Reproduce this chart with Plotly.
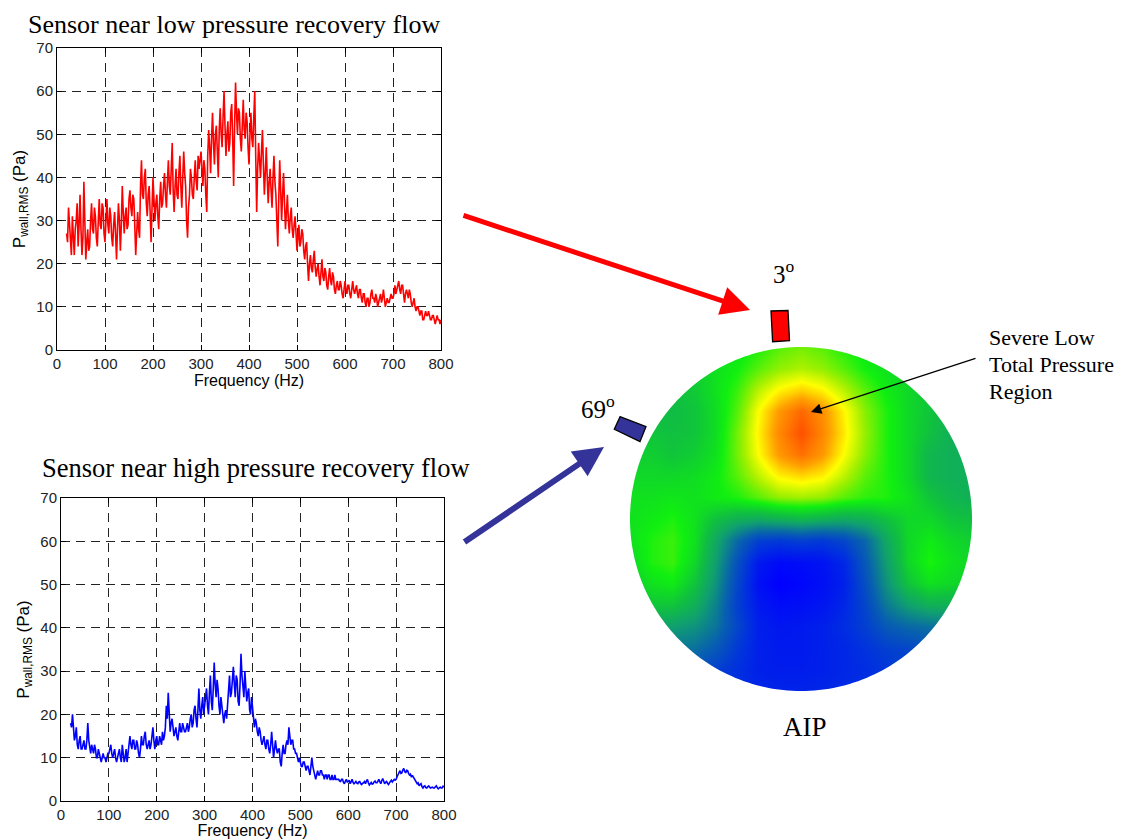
import math
import plotly.graph_objects as go

# window is 1124x839; the page body adds an 8px margin, so the figure is drawn 8px in
OFF = 8
W, H = 1124 - OFF, 839 - OFF

# ---------------- data ----------------
freq = list(range(20, 801, 2))

p_low = [
    27, 25, 33, 29, 25, 22, 31, 26, 22, 28, 30, 34, 24, 29, 36, 28, 22, 26, 39, 30,
    21, 25, 28, 23, 24, 30, 34, 28, 27, 33, 31, 26, 24, 30, 35, 29, 28, 34, 33, 27,
    25, 30, 35, 29, 27, 33, 31, 26, 24, 29, 32, 27, 21, 28, 34, 30, 23, 29, 38, 32,
    27, 31, 33, 28, 29, 35, 37, 33, 31, 36, 35, 29, 22, 27, 32, 28, 26, 38, 44, 36,
    35, 40, 42, 34, 31, 36, 38, 32, 25, 33, 40, 35, 30, 34, 36, 31, 28, 35, 39, 33,
    34, 38, 41, 36, 33, 39, 44, 38, 36, 42, 48, 37, 32, 38, 42, 36, 35, 41, 45, 38,
    33, 40, 46, 41, 38, 30, 26, 33, 36, 42, 40, 36, 35, 40, 44, 39, 37, 45, 42, 44,
    46, 42, 38, 44, 42, 36, 32, 45, 51, 47, 41, 49, 55, 48, 43, 50, 52, 46, 40, 51,
    56, 50, 47, 54, 60, 52, 45, 50, 53, 46, 48, 55, 57, 49, 38, 52, 62, 55, 50, 56,
    55, 49, 46, 52, 58, 51, 49, 55, 53, 47, 43, 50, 55, 49, 47, 54, 60, 45, 32, 42,
    48, 44, 40, 46, 51, 43, 36, 41, 47, 40, 34, 39, 42, 37, 33, 40, 45, 39, 36, 30,
    24, 35, 44, 37, 30, 36, 41, 34, 28, 32, 36, 30, 27, 31, 33, 28, 26, 29, 31, 27,
    23, 26, 29, 24, 25, 28, 27, 23, 21, 24, 25, 20, 16, 20, 22, 19, 18, 21, 23, 19,
    17, 19, 20, 17, 15, 18, 21, 17, 16, 19, 18, 15, 14, 17, 19, 16, 15, 18, 17, 14,
    13, 15, 16, 14, 14, 16, 15, 13, 12, 14, 16, 14, 13, 15, 15, 13, 12, 14, 16, 14,
    13, 14, 15, 13, 12, 14, 14, 12, 11, 13, 13, 11, 10, 12, 12, 10, 11, 13, 14, 12,
    12, 11, 13, 12, 10, 11, 12, 13, 11, 12, 14, 12, 10, 11, 12, 11, 11, 12, 13, 12,
    12, 13, 15, 13, 14, 15, 16, 14, 13, 15, 15, 13, 11, 13, 14, 13, 12, 14, 13, 11,
    10, 11, 12, 10, 9, 10, 10, 9, 8, 9, 9, 7, 7, 8, 9, 8, 8, 9, 8, 7,
    7, 8, 8, 7, 6, 7, 8, 7, 7, 6, 7,
]

p_high = [
    18, 17, 20, 16, 14, 15, 17, 13, 12, 14, 15, 12, 12, 13, 14, 12, 12, 14, 18, 14,
    12, 11, 13, 12, 11, 13, 12, 10, 10, 12, 11, 10, 9, 10, 11, 10, 10, 9, 10, 11,
    11, 12, 13, 11, 10, 11, 12, 10, 9, 10, 11, 12, 10, 9, 13, 11, 9, 10, 12, 9,
    11, 13, 15, 13, 12, 14, 14, 12, 12, 14, 13, 11, 10, 12, 15, 13, 13, 15, 16, 13,
    12, 13, 14, 12, 13, 15, 17, 14, 12, 14, 15, 13, 13, 15, 14, 13, 16, 14, 15, 17,
    22, 19, 25, 20, 16, 18, 19, 17, 15, 16, 17, 15, 14, 16, 18, 16, 16, 18, 17, 16,
    16, 17, 18, 16, 17, 19, 20, 17, 18, 21, 22, 19, 17, 21, 26, 21, 19, 22, 24, 20,
    22, 24, 26, 22, 20, 25, 29, 23, 21, 26, 32, 27, 24, 28, 26, 22, 20, 24, 22, 19,
    18, 20, 21, 19, 23, 26, 29, 24, 25, 28, 31, 27, 24, 29, 28, 23, 22, 27, 34, 29,
    27, 24, 30, 26, 23, 25, 26, 21, 20, 24, 22, 19, 17, 19, 18, 16, 15, 17, 16, 14,
    13, 14, 15, 13, 12, 14, 14, 12, 11, 13, 16, 13, 10, 12, 14, 12, 11, 12, 12, 9,
    8, 11, 13, 11, 11, 13, 14, 13, 17, 15, 13, 14, 14, 12, 12, 11, 11, 10, 9, 10,
    9, 8, 8, 9, 9, 8, 7, 8, 8, 7, 6, 8, 10, 8, 7, 6, 5, 6, 7, 6,
    6, 7, 7, 6, 6, 5, 6, 6, 5, 6, 6, 5, 5, 6, 5, 5, 6, 5, 5, 5,
    5, 4.6, 4.5, 5, 5, 4.3, 4, 4.6, 5, 4.4, 4.5, 4.8, 4, 4.4, 5, 4.3, 4, 4.2, 4.5, 4.1,
    4, 4.4, 4.5, 4, 3.8, 4.1, 4.2, 4.5, 4, 4.6, 5, 4.2, 3.7, 4, 4.3, 3.9, 4, 4.4, 4.6, 4.2,
    4.2, 4.6, 5, 4.4, 4, 4.7, 5.2, 4.6, 4, 4.3, 4.5, 4.1, 3.8, 4.2, 4.6, 4.8, 4.4, 4.7, 5, 4.8,
    5, 5.6, 6, 6.6, 7, 6.4, 6.5, 7.2, 7.5, 6.8, 6.5, 7.1, 7, 6.4, 6, 6.2, 5.5, 5.9, 5.5, 5.2,
    5, 4.5, 4, 4.2, 3.5, 3.8, 4, 3.3, 3, 3.4, 3.5, 3.1, 3, 3.3, 3.5, 3.2, 3, 3.1, 3.2, 3,
    3, 3.3, 3.5, 3.1, 2.8, 3, 3.2, 3, 3, 3.4, 3.3,
]

x_ticks = [0, 100, 200, 300, 400, 500, 600, 700, 800]
y_ticks = [0, 10, 20, 30, 40, 50, 60, 70]

# AIP total-pressure-loss map (normalised 0..1), rows listed top (y=+1) to bottom (y=-1)
disk_x = [-1.0, -0.875, -0.75, -0.625, -0.5, -0.375, -0.25, -0.125, 0.0,
          0.125, 0.25, 0.375, 0.5, 0.625, 0.75, 0.875, 1.0]
disk_y_top_down = [1.0, 0.875, 0.75, 0.625, 0.5, 0.375, 0.25, 0.125, 0.0,
                   -0.125, -0.25, -0.375, -0.5, -0.625, -0.75, -0.875, -1.0]
disk_z_top_down = [
    [0.56, 0.56, 0.57, 0.59, 0.61, 0.63, 0.66, 0.70, 0.72, 0.70, 0.66, 0.63, 0.60, 0.58, 0.56, 0.55, 0.55],
    [0.54, 0.55, 0.56, 0.58, 0.62, 0.65, 0.70, 0.74, 0.76, 0.74, 0.70, 0.65, 0.62, 0.58, 0.55, 0.53, 0.52],
    [0.54, 0.54, 0.55, 0.57, 0.62, 0.68, 0.77, 0.83, 0.86, 0.83, 0.77, 0.70, 0.64, 0.60, 0.56, 0.52, 0.50],
    [0.54, 0.54, 0.54, 0.56, 0.61, 0.70, 0.82, 0.91, 0.97, 0.92, 0.83, 0.73, 0.66, 0.60, 0.56, 0.52, 0.50],
    [0.56, 0.56, 0.55, 0.56, 0.61, 0.72, 0.83, 0.93, 1.00, 0.93, 0.84, 0.74, 0.66, 0.60, 0.55, 0.50, 0.50],
    [0.58, 0.58, 0.56, 0.58, 0.62, 0.72, 0.82, 0.91, 0.96, 0.91, 0.82, 0.73, 0.66, 0.60, 0.52, 0.50, 0.50],
    [0.60, 0.60, 0.60, 0.61, 0.64, 0.70, 0.77, 0.83, 0.85, 0.83, 0.77, 0.70, 0.66, 0.60, 0.52, 0.50, 0.50],
    [0.62, 0.62, 0.63, 0.62, 0.64, 0.66, 0.70, 0.74, 0.75, 0.74, 0.70, 0.67, 0.66, 0.62, 0.56, 0.52, 0.50],
    [0.62, 0.64, 0.66, 0.62, 0.55, 0.50, 0.48, 0.50, 0.52, 0.50, 0.48, 0.50, 0.55, 0.60, 0.60, 0.56, 0.55],
    [0.62, 0.66, 0.68, 0.62, 0.48, 0.32, 0.20, 0.18, 0.20, 0.18, 0.22, 0.32, 0.48, 0.60, 0.64, 0.60, 0.58],
    [0.60, 0.66, 0.68, 0.60, 0.45, 0.25, 0.08, 0.03, 0.04, 0.06, 0.12, 0.28, 0.45, 0.60, 0.66, 0.62, 0.60],
    [0.58, 0.62, 0.64, 0.56, 0.42, 0.22, 0.05, 0.00, 0.02, 0.05, 0.10, 0.25, 0.42, 0.56, 0.62, 0.60, 0.58],
    [0.52, 0.56, 0.56, 0.50, 0.38, 0.20, 0.08, 0.04, 0.05, 0.07, 0.12, 0.22, 0.36, 0.45, 0.50, 0.50, 0.50],
    [0.45, 0.46, 0.45, 0.42, 0.35, 0.22, 0.10, 0.07, 0.08, 0.10, 0.14, 0.20, 0.28, 0.32, 0.34, 0.36, 0.36],
    [0.35, 0.36, 0.36, 0.34, 0.28, 0.18, 0.10, 0.08, 0.08, 0.10, 0.12, 0.16, 0.20, 0.22, 0.25, 0.27, 0.27],
    [0.28, 0.28, 0.28, 0.26, 0.20, 0.15, 0.10, 0.09, 0.09, 0.10, 0.12, 0.14, 0.17, 0.20, 0.22, 0.22, 0.22],
    [0.24, 0.24, 0.24, 0.20, 0.17, 0.14, 0.12, 0.11, 0.11, 0.12, 0.13, 0.15, 0.17, 0.19, 0.20, 0.20, 0.20],
]

disk_colorscale = [
    [0.00, "#0000FF"],
    [0.15, "#0030E0"],
    [0.30, "#0860B0"],
    [0.45, "#10A070"],
    [0.55, "#10C040"],
    [0.65, "#10F010"],
    [0.75, "#A0F000"],
    [0.82, "#FFFF00"],
    [0.90, "#FFA000"],
    [1.00, "#FF5000"],
]


# ---------------- helpers (window pixels -> paper fractions) ----------------
def px(x, y):
    return (x - OFF) / W, 1 - (y - OFF) / H


def dom_x(a, b):
    return [(a - OFF) / W, (b - OFF) / W]


def dom_y(top, bottom):
    return [1 - (bottom - OFF) / H, 1 - (top - OFF) / H]


sans = "Liberation Sans, Arial, sans-serif"
serif = "Liberation Serif, Times New Roman, serif"


def axis_common(rng, ticks):
    return dict(
        range=rng,
        tickvals=ticks,
        automargin=False,
        showline=True,
        linecolor="black",
        linewidth=1,
        mirror="ticks",
        ticks="inside",
        ticklen=5,
        tickcolor="black",
        showgrid=True,
        gridcolor="#222222",
        griddash="9px,6px",
        gridwidth=1,
        zeroline=False,
        tickfont=dict(family=sans, size=15, color="#222222"),
        fixedrange=True,
    )


fig = go.Figure()

fig.add_trace(go.Scatter(x=freq, y=p_low, mode="lines",
                         line=dict(color="#FF0000", width=1.6),
                         xaxis="x", yaxis="y", showlegend=False))
fig.add_trace(go.Scatter(x=freq, y=p_high, mode="lines",
                         line=dict(color="#0000FF", width=1.6),
                         xaxis="x2", yaxis="y2", showlegend=False))

disk_y = disk_y_top_down[::-1]
disk_z = disk_z_top_down[::-1]
fig.add_trace(go.Heatmap(x=disk_x, y=disk_y, z=disk_z, colorscale=disk_colorscale,
                         zmin=0, zmax=1, zsmooth="best", showscale=False,
                         xaxis="x3", yaxis="y3", hoverinfo="skip"))

ytitle = dict(text="P<sub>wall,RMS</sub> (Pa)", font=dict(family=sans, size=17, color="black"), standoff=6)
xtitle = dict(text="Frequency (Hz)", font=dict(family=sans, size=16, color="black"), standoff=1)

xa1 = axis_common([0, 800], x_ticks); xa1.update(domain=dom_x(57, 441), anchor="y", title=xtitle)
ya1 = axis_common([0, 70], y_ticks); ya1.update(domain=dom_y(48, 350), anchor="x", title=ytitle)
xa2 = axis_common([0, 800], x_ticks); xa2.update(domain=dom_x(61, 444), anchor="y2", title=xtitle)
ya2 = axis_common([0, 70], y_ticks); ya2.update(domain=dom_y(498, 801), anchor="x2", title=ytitle)

R_PAD = 1.12
blank = dict(visible=False, range=[-R_PAD, R_PAD], fixedrange=True, showgrid=False,
             zeroline=False, automargin=False)
xa3 = dict(blank, domain=dom_x(801 - 171 * R_PAD, 801 + 171 * R_PAD), anchor="y3")
ya3 = dict(blank, domain=dom_y(519 - 172 * R_PAD, 519 + 172 * R_PAD), anchor="x3")

# white mask outside the disk
circ = []
for i in range(241):
    t = 2 * math.pi * i / 240
    circ.append(f"{math.cos(t):.4f},{math.sin(t):.4f}")
mask_path = "M-1.5,-1.5 L1.5,-1.5 L1.5,1.5 L-1.5,1.5 Z M" + " L".join(circ) + " Z"


def poly(points):
    pts = [px(x, y) for x, y in points]
    return "M" + " L".join(f"{a:.5f},{b:.5f}" for a, b in pts) + " Z"


shapes = [
    dict(type="path", xref="x3", yref="y3", path=mask_path, fillcolor="white",
         line=dict(width=0), fillrule="evenodd", layer="above"),
    dict(type="path", xref="paper", yref="paper",
         path=poly([(771, 311), (788, 310.5), (789.5, 340.7), (772.6, 341.7)]),
         fillcolor="#FF0000", line=dict(color="black", width=1.3)),
    dict(type="path", xref="paper", yref="paper",
         path=poly([(620, 416.7), (646, 426.7), (640, 441.7), (614.3, 429.3)]),
         fillcolor="#333399", line=dict(color="black", width=1.3)),
]


def label(text, x, y, size, xanchor="center", family=serif, align="center"):
    xx, yy = px(x, y)
    return dict(text=text, x=xx, y=yy, xref="paper", yref="paper", xanchor=xanchor,
                yanchor="middle", showarrow=False, align=align, borderpad=0,
                font=dict(family=family, size=size, color="black"))


def arrow(tip, tail, color, width, size, head=2):
    xx, yy = px(*tip)
    return dict(text="", x=xx, y=yy, xref="paper", yref="paper",
                ax=tail[0] - tip[0], ay=tail[1] - tip[1], axref="pixel", ayref="pixel",
                showarrow=True, arrowhead=head, arrowsize=size, arrowwidth=width,
                arrowcolor=color, standoff=0, startstandoff=0)


annotations = [
    label("Sensor near low pressure recovery flow", 27, 24, 26, xanchor="left"),
    label("Sensor near high pressure recovery flow", 41, 468, 26.5, xanchor="left"),
    label("3<sup>o</sup>", 784, 272, 25),
    label("69<sup>o</sup>", 598, 407, 25),
    label("Severe Low", 988, 337, 22, xanchor="left"),
    label("Total Pressure", 988, 364, 22, xanchor="left"),
    label("Region", 988, 391, 22, xanchor="left"),
    label("AIP", 805, 727, 27),
    arrow((750, 310), (462, 215), "#FF0000", 5, 1.15),
    arrow((604, 447), (463, 543), "#333399", 6, 1.0),
    arrow((811, 412), (977, 358), "black", 1.3, 1.6),
]

fig.update_layout(
    width=W, height=H,
    margin=dict(l=0, r=0, t=0, b=0, autoexpand=False),
    paper_bgcolor="white", plot_bgcolor="white",
    xaxis=xa1, yaxis=ya1, xaxis2=xa2, yaxis2=ya2, xaxis3=xa3, yaxis3=ya3,
    shapes=shapes, annotations=annotations,
    showlegend=False,
)

fig.write_html("out.html")
